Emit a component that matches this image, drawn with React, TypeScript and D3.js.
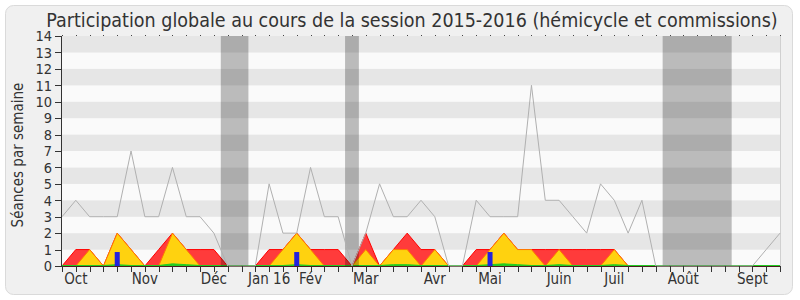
import React from "react";
import * as d3 from "d3";

// ---- data (one value per week, 53 weeks of the 2015-2016 session) ----
const totalLine = [3,4,3,3,3,7,3,3,6,3,3,2,0,0,0,5,2,2,6,3,3,0,2,5,3,3,4,3,0,0,4,3,3,3,11,4,4,3,2,5,4,2,4,0,0,0,0,0,0,0,0,1,2];
const redSeries = [0,1,1,0,2,1,0,1,2,1,1,1,0,0,0,1,1,2,1,1,1,0,2,0,1,2,1,1,0,0,1,1,2,1,1,1,1,1,1,1,1,0,0,0,0,0,0,0,0,0,0,0,0];
const yellowSeries = [0,0,1,0,2,1,0,0,2,1,0,0,0,0,0,0,1,2,1,0,0,0,1,0,1,1,0,1,0,0,0,1,2,1,1,0,1,0,0,0,1,0,0,0,0,0,0,0,0,0,0,0,0];
const greenSeries = [0,0,0,0,0.05,0,0,0,0.1,0.05,0,0,0,0,0,0,0,0.05,0,0,0,0,0,0,0.05,0.05,0,0,0,0,0,0.05,0.1,0.05,0,0,0.05,0,0,0,0.05,0,0,0,0,0,0,0,0,0,0,0,0];
const blueBars = [{ week: 4, value: 0.85 }, { week: 17, value: 0.85 }, { week: 31, value: 0.85 }];
const vacations = [{ from: 11.5, to: 13.5 }, { from: 20.5, to: 21.5 }, { from: 43.5, to: 48.5 }];
const monthLabels = [
  { label: "Oct", week: 1 }, { label: "Nov", week: 6 }, { label: "Déc", week: 11 },
  { label: "Jan 16", week: 15 }, { label: "Fév", week: 18 }, { label: "Mar", week: 22 },
  { label: "Avr", week: 27 }, { label: "Mai", week: 31 }, { label: "Juin", week: 36 },
  { label: "Juil", week: 40 }, { label: "Août", week: 45 }, { label: "Sept", week: 50 },
];
const yTicks = d3.range(0, 15);
const title = "Participation globale au cours de la session 2015-2016 (hémicycle et commissions)";
const yTitle = "Séances par semaine";

const FONT = "'DejaVu Sans Condensed', 'DejaVu Sans', sans-serif";

export default function App() {
  const W = 800, H = 300;
  const left = 62, right = 780, top = 36, bottom = 266;
  const nWeeks = totalLine.length;
  const x = d3.scaleLinear().domain([0, nWeeks - 1]).range([left, right]);
  const y = d3.scaleLinear().domain([0, 14]).range([bottom, top]);

  const area = d3.area<number>().x((_, i) => x(i)).y0(y(0)).y1((d) => y(d));
  const line = d3.line<number>().x((_, i) => x(i)).y((d) => y(d));
  const weeks = d3.range(0, nWeeks);

  return (
    <svg width={W} height={H} style={{ position: "absolute", left: 0, top: 0 }} fontFamily={FONT} fontStretch="condensed">
      <rect x={5.5} y={5.5} width={787} height={289} rx={8} fill="#f0f0f0" stroke="#dadada" />
      <text x={412} y={27} textAnchor="middle" fontSize={19.5} fill="#333">{title}</text>

      {/* stripes */}
      {yTicks.slice(0, 14).map((k) => (
        <rect key={k} x={left} width={right - left} y={y(k + 1)} height={y(k) - y(k + 1)} fill={k % 2 === 1 ? "#e6e6e6" : "#fafafa"} />
      ))}
      <line x1={right + 0.5} x2={right + 0.5} y1={top} y2={bottom} stroke="#d0d0d0" />

      {/* areas */}
      <path d={area(redSeries) || ""} fill="#ff3b3b" stroke="#ff0000" strokeWidth={1} />
      <path d={area(yellowSeries) || ""} fill="#ffd20f" stroke="#ff7a00" strokeWidth={1} />
      <line x1={left} x2={right} y1={bottom + 0.5} y2={bottom + 0.5} stroke="#4a1c1c" />
      <path d={area(greenSeries) || ""} fill="#22cc22" stroke="#22cc22" strokeWidth={1} transform="translate(0,-0.5)" />
      {blueBars.map((b) => (
        <rect key={b.week} x={x(b.week) - 2.5} width={5} y={y(b.value)} height={y(0) - y(b.value)} fill="#2222dd" />
      ))}

      {/* vacations */}
      {vacations.map((v, i) => (
        <rect key={i} x={x(v.from)} width={x(v.to) - x(v.from)} y={top} height={bottom - top} fill="rgba(0,0,0,0.25)" />
      ))}

      <path d={line(totalLine) || ""} fill="none" stroke="#b0b0b0" strokeWidth={1} />

      {/* top dots */}
      {weeks.map((w) => (
        <rect key={w} x={Math.round(x(w))} y={35} width={1} height={1} fill="#444" />
      ))}

      {/* y axis */}
      <line x1={left - 0.5} x2={left - 0.5} y1={top} y2={bottom} stroke="#333" />
      {yTicks.map((t) => (
        <g key={t}>
          <line x1={left - 7} x2={left} y1={Math.round(y(t)) + 0.5} y2={Math.round(y(t)) + 0.5} stroke="#333" />
          <text x={left - 10} y={y(t)} dy="0.36em" textAnchor="end" fontSize={14.5} fill="#333">{t}</text>
        </g>
      ))}
      <text transform={`translate(23,155) rotate(-90)`} textAnchor="middle" fontSize={15} fill="#333">{yTitle}</text>

      {/* x axis ticks */}
      {weeks.map((w) => (
        <line key={w} x1={Math.round(x(w)) + 0.5} x2={Math.round(x(w)) + 0.5} y1={bottom} y2={bottom + 6} stroke="#333" />
      ))}
      {monthLabels.map((m) => (
        <text key={m.label} x={x(m.week)} y={284} textAnchor="middle" fontSize={15} fill="#333">{m.label}</text>
      ))}
    </svg>
  );
}
